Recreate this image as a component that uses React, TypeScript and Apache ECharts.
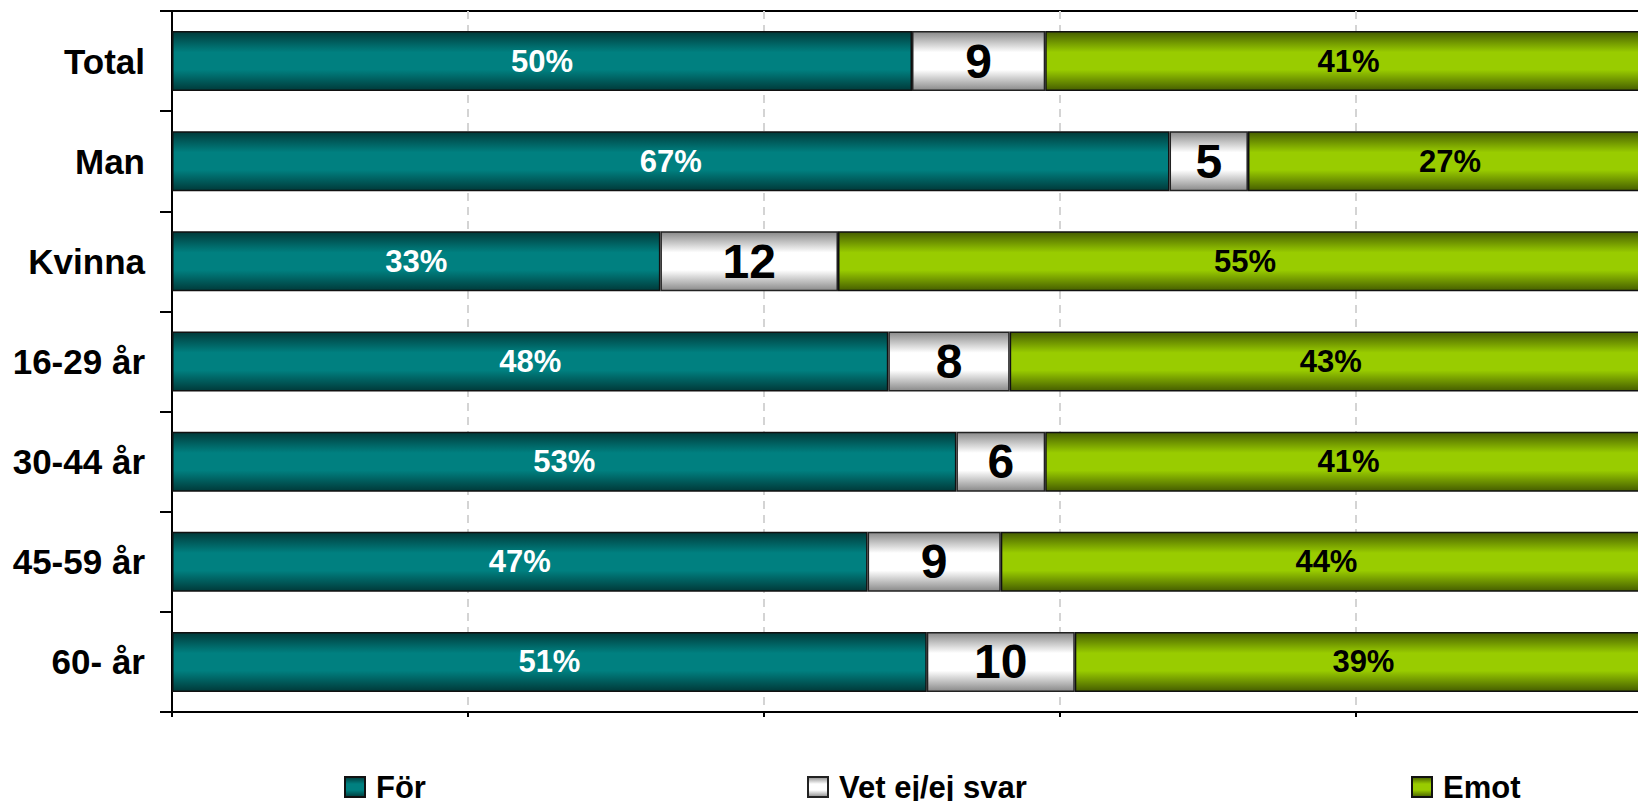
import React, { useEffect, useRef } from "react";
import * as echarts from "echarts";

const categories = ["Total", "Man", "Kvinna", "16-29 år", "30-44 år", "45-59 år", "60- år"];
const forValues = [50, 67.4, 33, 48.4, 53, 47, 51];
const vetValues = [9, 5.3, 12, 8.2, 6, 9, 10];
const emotValues = [41, 27.3, 55, 43.4, 41, 44, 39];
const seriesNames = ["För", "Vet ej/ej svar", "Emot"];

const FONT = "'Liberation Sans', Arial, sans-serif";

function grad(edge: string, mid: string) {
  return new echarts.graphic.LinearGradient(0, 0, 0, 1, [
    { offset: 0, color: edge },
    { offset: 0.35, color: mid },
    { offset: 0.65, color: mid },
    { offset: 1, color: edge },
  ]);
}

export default function App() {
  const ref = useRef<HTMLDivElement>(null);
  useEffect(() => {
    if (!ref.current) return;
    const chart = echarts.init(ref.current, null, { renderer: "svg" });
    const legendCommon = {
      orient: "horizontal",
      top: 766,
      itemWidth: 20,
      itemHeight: 20,
      icon: "rect",
      selectedMode: false,
      textStyle: {
        fontFamily: FONT,
        fontWeight: "bold",
        fontSize: 31,
        color: "#000",
        lineHeight: 32,
        padding: [0, 0, 0, 6],
      },
    };
    chart.setOption({
      animation: false,
      backgroundColor: "#fff",
      grid: {
        left: 172,
        top: 11,
        width: 1480,
        height: 701,
        show: true,
        borderColor: "#000",
        borderWidth: 2,
        backgroundColor: "transparent",
      },
      legend: [
        { ...legendCommon, left: 339, data: [seriesNames[0]] },
        { ...legendCommon, left: 802, data: [seriesNames[1]] },
        { ...legendCommon, left: 1406, data: [seriesNames[2]] },
      ],
      xAxis: {
        type: "value",
        min: 0,
        max: 100,
        interval: 20,
        axisLine: { show: true, lineStyle: { color: "#000", width: 2 } },
        axisTick: { show: true, length: 5, lineStyle: { color: "#000", width: 2 } },
        axisLabel: { show: false },
        splitLine: {
          show: true,
          lineStyle: { color: "#d4d4d4", width: 2, type: [8, 6] },
        },
      },
      yAxis: {
        type: "category",
        data: categories,
        inverse: true,
        axisLine: { show: true, lineStyle: { color: "#000", width: 2 } },
        axisTick: { show: true, length: 12, lineStyle: { color: "#000", width: 2 } },
        axisLabel: {
          margin: 27,
          fontFamily: FONT,
          fontWeight: "bold",
          fontSize: 35,
          color: "#000",
        },
        splitLine: { show: false },
      },
      series: [
        {
          name: seriesNames[0],
          type: "bar",
          stack: "all",
          barWidth: 60,
          data: forValues,
          itemStyle: { color: grad("#003a3a", "#008080"), borderColor: "#111", borderWidth: 1.5 },
          label: {
            show: true,
            position: "inside",
            formatter: (p: any) => Math.round(p.value) + "%",
            fontFamily: FONT,
            fontWeight: "bold",
            fontSize: 31,
            color: "#fff",
          },
        },
        {
          name: seriesNames[1],
          type: "bar",
          stack: "all",
          barWidth: 60,
          data: vetValues,
          itemStyle: { color: grad("#8a8a8a", "#ffffff"), borderColor: "#222", borderWidth: 1.5 },
          label: {
            show: true,
            position: "inside",
            formatter: (p: any) => String(Math.round(p.value)),
            fontFamily: FONT,
            fontWeight: "bold",
            fontSize: 48,
            color: "#000",
          },
        },
        {
          name: seriesNames[2],
          type: "bar",
          stack: "all",
          barWidth: 60,
          data: emotValues,
          itemStyle: { color: grad("#465e00", "#99cc00"), borderColor: "#111", borderWidth: 1.5 },
          label: {
            show: true,
            position: "inside",
            formatter: (p: any) => Math.round(p.value) + "%",
            fontFamily: FONT,
            fontWeight: "bold",
            fontSize: 31,
            color: "#000",
          },
        },
      ],
    });
    return () => chart.dispose();
  }, []);
  return (
    <div
      style={{
        position: "fixed",
        left: 0,
        top: 0,
        width: 1638,
        height: 801,
        overflow: "hidden",
        background: "#fff",
      }}
    >
      <div ref={ref} style={{ position: "absolute", left: 0, top: 0, width: 1700, height: 801 }} />
    </div>
  );
}
